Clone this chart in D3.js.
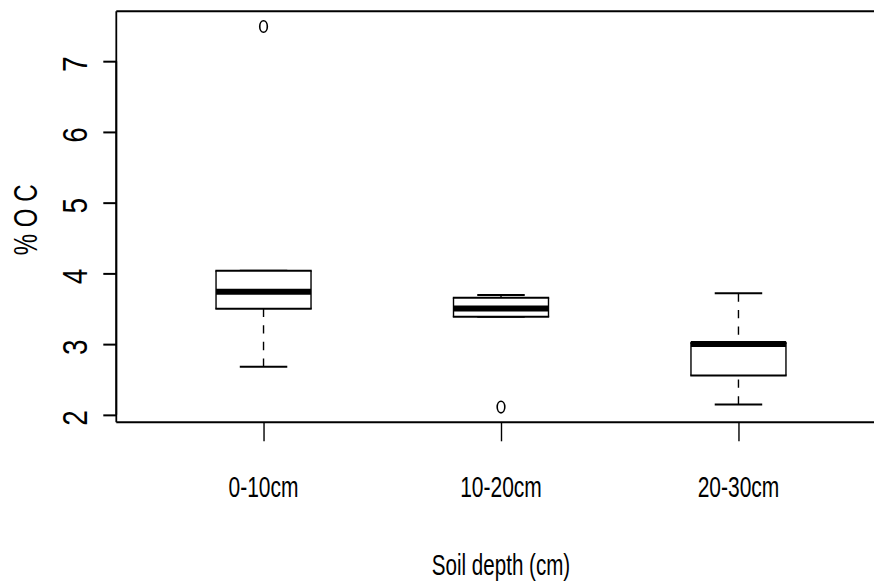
<!DOCTYPE html>
<html>
<head>
<meta charset="utf-8">
<script src="https://cdn.jsdelivr.net/npm/d3@7"></script>
<style>
  html, body { margin: 0; padding: 0; background: #fff; }
  svg { display: block; }
  text { font-family: "Liberation Sans", Arial, Helvetica, sans-serif; fill: #000; }
</style>
</head>
<body>
<svg id="chart" width="874" height="584"></svg>
<script>
// ---- data ----
const categories = ["0-10cm", "10-20cm", "20-30cm"];
const whiskerLow  = [2.68, 3.387, 2.147];
const q1          = [3.50, 3.387, 2.557];
const median      = [3.74, 3.505, 3.00];
const q3          = [4.037, 3.655, 3.02];
const whiskerHigh = [4.037, 3.694, 3.718];
const outlierCat  = [0, 1];
const outlierVal  = [7.49, 2.11];
const yTicks      = [2, 3, 4, 5, 6, 7];
const xTitle = "Soil depth (cm)";
const yTitle = "% O C";

// ---- layout ----
const svg = d3.select("#chart");
const pLeft = 116.3, pRight = 885.7, pTop = 11.3, pBottom = 422.3;

const allVals = whiskerLow.concat(whiskerHigh, outlierVal);
const yMin = d3.min(allVals), yMax = d3.max(allVals);
const pad = (yMax - yMin) * 0.04;
const y = d3.scaleLinear().domain([yMin - pad, yMax + pad]).range([pBottom, pTop]);
const n = categories.length;
const x = d3.scaleLinear().domain([0.5 - n * 0.04, n + 0.5 + n * 0.04]).range([pLeft, pRight]);

const boxHalf = 0.2, capHalf = 0.1;

// plot frame
const frame = svg.append("g");
frame.append("line").attr("x1", pLeft).attr("x2", pRight).attr("y1", pTop).attr("y2", pTop)
  .attr("stroke", "#000").attr("stroke-width", 2);
frame.append("line").attr("x1", pLeft).attr("x2", pRight).attr("y1", pBottom).attr("y2", pBottom)
  .attr("stroke", "#000").attr("stroke-width", 2);
frame.append("line").attr("x1", pLeft).attr("x2", pLeft).attr("y1", pTop).attr("y2", pBottom)
  .attr("stroke", "#000").attr("stroke-width", 1.8);
frame.append("line").attr("x1", pRight).attr("x2", pRight).attr("y1", pTop).attr("y2", pBottom)
  .attr("stroke", "#000").attr("stroke-width", 1.8);

// y axis
const yAxis = d3.axisLeft(y).tickValues(yTicks).tickSize(13).tickFormat("");
const gy = svg.append("g").attr("transform", `translate(${pLeft},0)`).call(yAxis);
gy.select(".domain").remove();
gy.selectAll(".tick line").attr("stroke", "#000").attr("stroke-width", 2);
gy.append("line").attr("x1", 0).attr("x2", 0)
  .attr("y1", y(yTicks[0])).attr("y2", y(yTicks[yTicks.length - 1]))
  .attr("stroke", "#000").attr("stroke-width", 1.8);
svg.append("g").selectAll("text").data(yTicks).join("text")
  .attr("transform", d => `translate(87,${y(d) + 3}) rotate(-90) scale(0.8,1)`)
  .attr("text-anchor", "middle")
  .attr("font-size", 35)
  .text(d => d);

// x axis
const xPos = d3.range(1, n + 1);
const xAxis = d3.axisBottom(x).tickValues(xPos).tickSize(19).tickFormat("");
const gx = svg.append("g").attr("transform", `translate(0,${pBottom})`).call(xAxis);
gx.select(".domain").remove();
gx.selectAll(".tick line").attr("stroke", "#000").attr("stroke-width", 1.4);
svg.append("g").selectAll("text").data(categories).join("text")
  .attr("transform", (d, i) => `translate(${x(i + 1)},497) scale(0.7,1)`)
  .attr("text-anchor", "middle")
  .attr("font-size", 30)
  .text(d => d);

// axis titles
svg.append("text")
  .attr("transform", `translate(${(pLeft + pRight) / 2},575) scale(0.71,1)`)
  .attr("text-anchor", "middle")
  .attr("font-size", 29)
  .text(xTitle);
svg.append("text")
  .attr("transform", `translate(37,${(pTop + pBottom) / 2 + 3}) rotate(-90) scale(0.71,1)`)
  .attr("text-anchor", "middle")
  .attr("font-size", 34)
  .text(yTitle);

// boxes
const g = svg.append("g");
categories.forEach((c, i) => {
  const cx = i + 1;
  // whiskers (dashed, from cap to box)
  g.append("line").attr("x1", x(cx)).attr("x2", x(cx))
    .attr("y1", y(whiskerHigh[i])).attr("y2", y(q3[i]))
    .attr("stroke", "#000").attr("stroke-width", 1.4).attr("stroke-dasharray", "8.3,8.3");
  g.append("line").attr("x1", x(cx)).attr("x2", x(cx))
    .attr("y1", y(whiskerLow[i])).attr("y2", y(q1[i]))
    .attr("stroke", "#000").attr("stroke-width", 1.4).attr("stroke-dasharray", "8.3,8.3");
  // caps
  [whiskerHigh[i], whiskerLow[i]].forEach(v => {
    g.append("line").attr("x1", x(cx - capHalf)).attr("x2", x(cx + capHalf))
      .attr("y1", y(v)).attr("y2", y(v))
      .attr("stroke", "#000").attr("stroke-width", 2);
  });
  // box
  g.append("rect")
    .attr("x", x(cx - boxHalf)).attr("width", x(cx + boxHalf) - x(cx - boxHalf))
    .attr("y", y(q3[i])).attr("height", y(q1[i]) - y(q3[i]))
    .attr("fill", "#fff").attr("stroke", "none");
  [q3[i], q1[i]].forEach(v => {
    g.append("line").attr("x1", x(cx - boxHalf) - 0.7).attr("x2", x(cx + boxHalf) + 0.7)
      .attr("y1", y(v)).attr("y2", y(v))
      .attr("stroke", "#000").attr("stroke-width", 2);
  });
  [cx - boxHalf, cx + boxHalf].forEach(xv => {
    g.append("line").attr("x1", x(xv)).attr("x2", x(xv))
      .attr("y1", y(q3[i])).attr("y2", y(q1[i]))
      .attr("stroke", "#000").attr("stroke-width", 1.4);
  });
  // median
  g.append("line").attr("x1", x(cx - boxHalf)).attr("x2", x(cx + boxHalf))
    .attr("y1", y(median[i])).attr("y2", y(median[i]))
    .attr("stroke", "#000").attr("stroke-width", 6);
});

// outliers
g.selectAll("ellipse").data(outlierVal).join("ellipse")
  .attr("cx", (d, k) => x(outlierCat[k] + 1))
  .attr("cy", d => y(d))
  .attr("rx", 3.8).attr("ry", 5.8)
  .attr("fill", "none").attr("stroke", "#000").attr("stroke-width", 1.6);
</script>
</body>
</html>
